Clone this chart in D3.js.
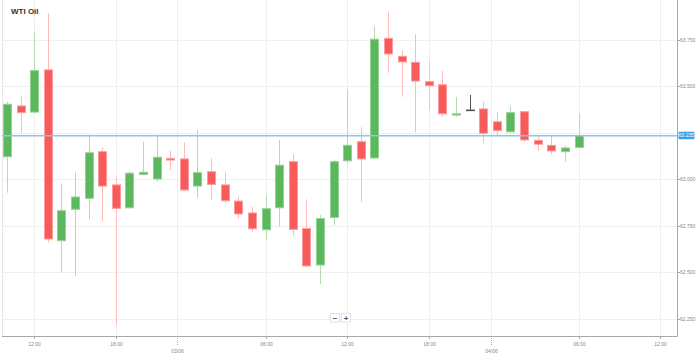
<!DOCTYPE html>
<html>
<head>
<meta charset="utf-8">
<script src="https://cdn.jsdelivr.net/npm/d3@7"></script>
<style>
html,body{margin:0;padding:0;background:#fff;}
svg{display:block;font-family:"Liberation Sans",Arial,sans-serif;}
</style>
</head>
<body>
<svg id="chart" width="699" height="356"></svg>
<script>
const title = "WTI Oil";
const opens  = [63.122,63.395,63.362,63.589,62.670,62.839,62.898,63.149,62.970,62.847,63.027,63.002,63.113,63.110,62.964,63.041,62.970,62.883,62.819,62.729,62.847,63.095,62.735,62.539,62.795,63.100,63.203,63.115,63.759,63.662,63.630,63.526,63.509,63.346,63.373,63.379,63.310,63.256,63.364,63.210,63.183,63.149,63.172];
const highs  = [63.418,63.445,63.795,63.895,62.979,63.036,63.242,63.170,63.014,63.041,63.203,63.242,63.153,63.199,63.266,63.113,63.041,62.907,62.853,62.916,63.212,63.136,62.893,62.808,63.104,63.485,63.280,63.825,63.904,63.691,63.782,63.633,63.583,63.443,63.454,63.418,63.364,63.395,63.368,63.230,63.233,63.183,63.355];
const lows   = [62.928,63.251,63.355,62.659,62.498,62.481,62.785,62.776,62.216,62.843,63.023,62.987,63.050,62.939,62.901,62.889,62.871,62.787,62.718,62.677,62.745,62.698,62.528,62.437,62.754,63.088,62.878,63.112,63.574,63.445,63.253,63.375,63.337,63.337,63.368,63.194,63.230,63.248,63.203,63.154,63.136,63.095,63.172];
const closes = [63.404,63.359,63.585,62.679,62.831,62.905,63.143,62.964,62.844,63.033,63.038,63.119,63.104,62.943,63.036,62.973,62.885,62.814,62.734,62.842,63.076,62.731,62.534,62.789,63.095,63.183,63.110,63.754,63.675,63.632,63.529,63.504,63.353,63.353,63.373,63.248,63.262,63.359,63.212,63.189,63.153,63.169,63.235];
const xTickIdx    = [2, 8, 12.5, 19, 25, 31, 35.57, 42, 48];
const xTickLabels = ["12:00","18:00","03/06","06:00","12:00","18:00","04/06","06:00","12:00"];
const xTickIsDate = [false,false,true,false,false,false,true,false,false];
const yTickValues = [62.25, 62.5, 62.75, 63.0, 63.25, 63.5, 63.75];
const yTickLabels = ["62.250","62.500","62.750","63.000","63.250","63.500","63.750"];
const currentPrice = 63.235;
const currentLabel = "63.235";

(function () {
const svg = d3.select("#chart");
const pLeft = 2, pRight = 677, pTop = 0, pBottom = 336;

const x = d3.scaleLinear().domain([0, 42]).range([7, 578.5]);
const y = d3.scaleLinear().domain([62.25, 63.75]).range([318.7, 40]);
const bodyW = 8;

// gridlines
svg.append("g").selectAll("line").data(yTickValues).join("line")
  .attr("x1", pLeft).attr("x2", pRight)
  .attr("y1", d => Math.round(y(d)) + 0.5).attr("y2", d => Math.round(y(d)) + 0.5)
  .attr("stroke", "#f0f0f0").attr("stroke-width", 1);
svg.append("g").selectAll("line").data(xTickIdx).join("line")
  .attr("x1", d => Math.round(x(d)) + 0.5).attr("x2", d => Math.round(x(d)) + 0.5)
  .attr("y1", pTop).attr("y2", pBottom)
  .attr("stroke", "#eeeeee").attr("stroke-width", 1);

// left border
svg.append("line").attr("x1", pLeft + 0.5).attr("x2", pLeft + 0.5).attr("y1", pTop).attr("y2", pBottom)
  .attr("stroke", "#e6e6e6");

// candles
const data = opens.map((o, i) => ({i, o, h: highs[i], l: lows[i], c: closes[i]}));
const col = d => d.c > d.o ? "up" : (d.c < d.o ? "down" : "flat");
const wickCol = {up: "#b3dcb3", down: "#ffbaba", flat: "#555555"};
const fillCol = {up: "#5cb85c", down: "#f75b5b", flat: "#555555"};
const strokeCol = {up: "#93d093", down: "#ff9a9a", flat: "#555555"};

const cg = svg.append("g");
cg.selectAll("line.wick").data(data).join("line").attr("class", "wick")
  .attr("x1", d => Math.round(x(d.i)) + 0.5).attr("x2", d => Math.round(x(d.i)) + 0.5)
  .attr("y1", d => y(d.h)).attr("y2", d => y(d.l))
  .attr("stroke", d => wickCol[col(d)]).attr("stroke-width", 1);
cg.selectAll("rect.body").data(data).join("rect").attr("class", "body")
  .attr("x", d => Math.round(x(d.i)) - bodyW / 2 + 0.5)
  .attr("width", bodyW)
  .attr("y", d => Math.min(y(d.o), y(d.c)))
  .attr("height", d => Math.max(0.6, Math.abs(y(d.o) - y(d.c))))
  .attr("fill", d => fillCol[col(d)])
  .attr("stroke", d => strokeCol[col(d)]).attr("stroke-width", 1);

// current price line
svg.append("line").attr("x1", pLeft).attr("x2", pRight)
  .attr("y1", y(currentPrice)).attr("y2", y(currentPrice))
  .attr("stroke", "#8cc4ee").attr("stroke-width", 1.5);

// axes lines
svg.append("line").attr("x1", pLeft).attr("x2", pRight + 0.5).attr("y1", pBottom + 0.5).attr("y2", pBottom + 0.5)
  .attr("stroke", "#a8a8a8");
svg.append("line").attr("x1", pRight + 0.5).attr("x2", pRight + 0.5).attr("y1", pTop).attr("y2", pBottom + 0.5)
  .attr("stroke", "#a8a8a8");

// y axis ticks and labels
const yAxis = svg.append("g");
yTickValues.forEach((v, k) => {
  if (Math.abs(y(v) - y(currentPrice)) < 7) return;
  yAxis.append("line").attr("x1", pRight).attr("x2", pRight + 3)
    .attr("y1", Math.round(y(v)) + 0.5).attr("y2", Math.round(y(v)) + 0.5).attr("stroke", "#a8a8a8");
  yAxis.append("text").attr("x", 680).attr("y", y(v) + 1.8)
    .attr("font-size", 5).attr("fill", "#888").text(yTickLabels[k]);
});

// current price label
svg.append("rect").attr("x", 678.5).attr("y", y(currentPrice) - 4).attr("width", 16).attr("height", 7.5)
  .attr("rx", 1).attr("fill", "#3d9fe8");
svg.append("text").attr("x", 686.5).attr("y", y(currentPrice) + 1.8).attr("text-anchor", "middle")
  .attr("font-size", 5).attr("fill", "#fff").text(currentLabel);

// x axis ticks and labels
const xAxis = svg.append("g");
xTickIdx.forEach((t, k) => {
  const px = Math.round(x(t)) + 0.5;
  if (xTickIsDate[k]) {
    xAxis.append("line").attr("x1", px).attr("x2", px).attr("y1", pBottom).attr("y2", pBottom + 10)
      .attr("stroke", "#aaa").attr("stroke-dasharray", "1,1");
    xAxis.append("text").attr("x", px).attr("y", 353).attr("text-anchor", "middle")
      .attr("font-size", 5).attr("fill", "#888").text(xTickLabels[k]);
  } else {
    xAxis.append("line").attr("x1", px).attr("x2", px).attr("y1", pBottom).attr("y2", pBottom + 3)
      .attr("stroke", "#aaa");
    xAxis.append("text").attr("x", px).attr("y", 345.5).attr("text-anchor", "middle")
      .attr("font-size", 5).attr("fill", "#888").text(xTickLabels[k]);
  }
});

// zoom buttons
const zb = svg.append("g");
[["\u2212", 330], ["+", 341]].forEach(([s, bx]) => {
  zb.append("rect").attr("x", bx + 0.5).attr("y", 313.5).attr("width", 9).attr("height", 8.5)
    .attr("fill", "#fff").attr("stroke", "#e2e2e2");
  zb.append("text").attr("x", bx + 5).attr("y", 320.5).attr("text-anchor", "middle")
    .attr("font-size", 8).attr("font-weight", "bold").attr("fill", "#555").text(s);
});

// title
svg.append("text").attr("x", 11).attr("y", 13.5).attr("font-size", 8).attr("font-weight", "bold")
  .attr("fill", "#333").text(title);
})();
</script>
</body>
</html>
